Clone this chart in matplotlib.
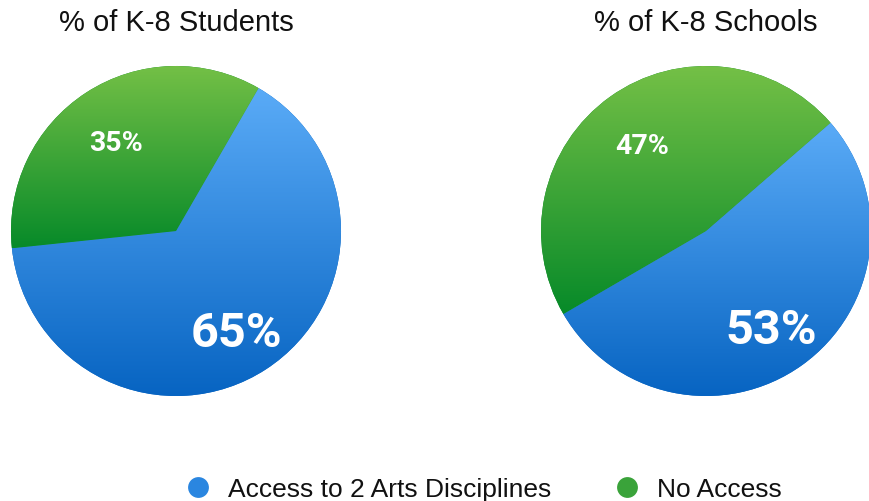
import matplotlib
matplotlib.use('Agg')
import matplotlib.pyplot as plt
from matplotlib.lines import Line2D
from matplotlib.colors import LinearSegmentedColormap
import numpy as np

plt.rcParams['font.family'] = ['Liberation Sans', 'DejaVu Sans']

# Dados
categorias = ['Access to 2 Arts Disciplines', 'No Access']
titulos = ['% of K-8 Students', '% of K-8 Schools']
valores_alunos = [65, 35]
valores_escolas = [53, 47]
angulos_inicio = [60, 41]

# Cores (topo -> base do gradiente)
azul_topo, azul_base = '#5aabf7', '#0764c2'
verde_topo, verde_base = '#74c046', '#078a29'
cor_texto = '#111111'

fig = plt.figure(figsize=(8.7, 5.02), dpi=100)
W, H = 870, 502


def eixo_pizza(cx, cy, r):
    return fig.add_axes([(cx - r) / W, (H - cy - r) / H, 2 * r / W, 2 * r / H])


def preencher_gradiente(ax, cunha, topo, base):
    ext = cunha.get_path().get_extents()
    cmap = LinearSegmentedColormap.from_list('g', [base, topo])
    grad = np.linspace(0, 1, 256).reshape(-1, 1)
    im = ax.imshow(grad, cmap=cmap, origin='lower', aspect='auto',
                   extent=(ext.x0, ext.x1, ext.y0, ext.y1), zorder=2)
    im.set_clip_path(cunha)


def desenhar_pizza(ax, valores, inicio, titulo):
    cunhas, _, textos = ax.pie(valores, startangle=inicio, counterclock=False,
                               colors=[azul_base, verde_base],
                               autopct=lambda p: f'{round(p)}%',
                               pctdistance=0.7,
                               wedgeprops={'linewidth': 0})
    preencher_gradiente(ax, cunhas[0], azul_topo, azul_base)
    preencher_gradiente(ax, cunhas[1], verde_topo, verde_base)
    for t, tam in zip(textos, [35, 20.5]):
        t.set_color('white')
        t.set_fontsize(tam)
        t.set_fontweight('bold')
        t.set_family(['Roboto', 'DejaVu Sans'])
        t.set_zorder(5)
    # pequenos ajustes dos rótulos
    x, y = textos[0].get_position()
    textos[0].set_position((x - 0.015, y - 0.03))
    x, y = textos[1].get_position()
    textos[1].set_position((x + 0.02, y - 0.05))
    ax.set_xlim(-1, 1)
    ax.set_ylim(-1, 1)
    ax.set_title(titulo, fontsize=21, color=cor_texto, pad=26)


ax1 = eixo_pizza(176, 232, 165)
desenhar_pizza(ax1, valores_alunos, angulos_inicio[0], titulos[0])
ax2 = eixo_pizza(706, 232, 165)
desenhar_pizza(ax2, valores_escolas, angulos_inicio[1], titulos[1])

legenda = [
    Line2D([], [], marker='o', linestyle='', markersize=15,
           markerfacecolor='#2a86e0', markeredgewidth=0, label=categorias[0]),
    Line2D([], [], marker='o', linestyle='', markersize=15,
           markerfacecolor='#3aa33a', markeredgewidth=0, label=categorias[1]),
]
fig.legend(handles=legenda, loc='center', bbox_to_anchor=(0.548, 1 - 490 / H),
           ncol=2, frameon=False, fontsize=19, columnspacing=1.85,
           handlelength=2, handletextpad=0.15, labelcolor=cor_texto)

fig.savefig('out.png', dpi=100, facecolor='white')
